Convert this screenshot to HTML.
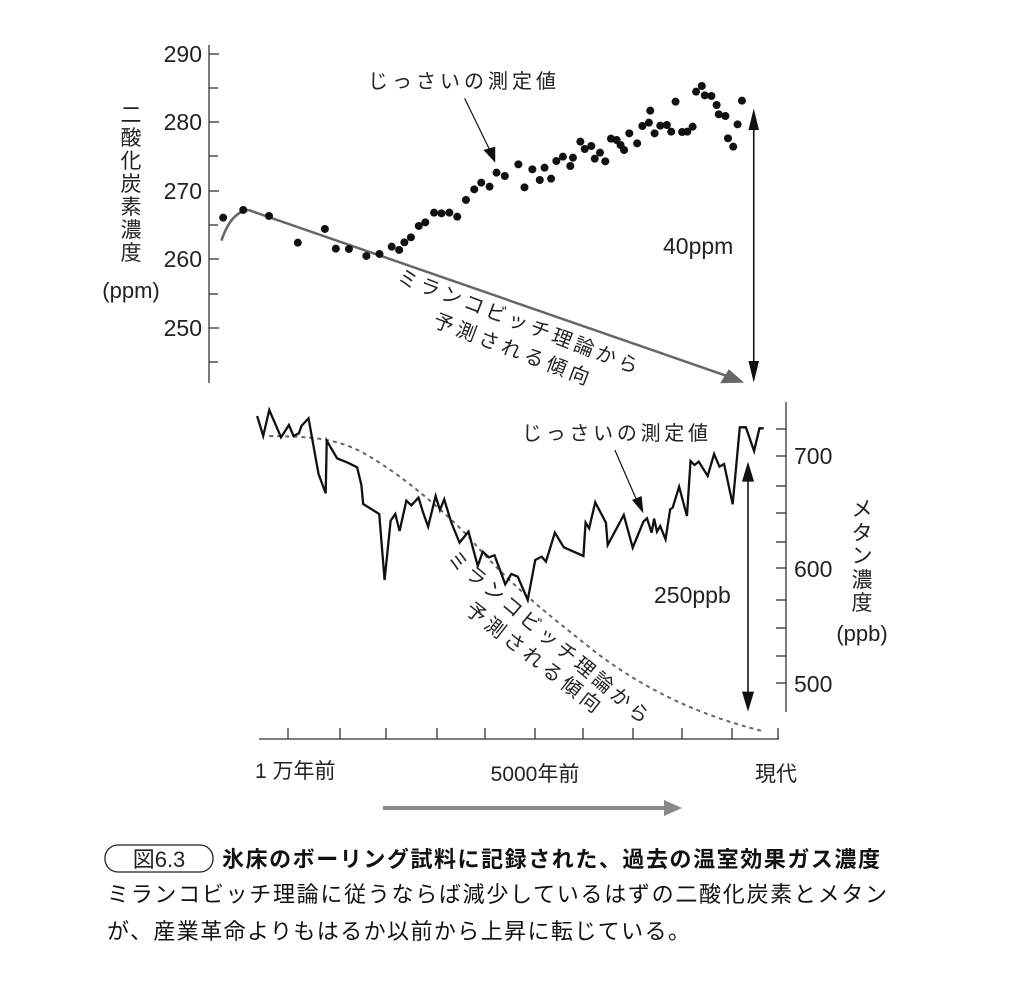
<!DOCTYPE html>
<html><head><meta charset="utf-8"><style>
html,body{margin:0;padding:0;background:#fff;}
svg{display:block;font-family:"Liberation Sans","Noto Sans CJK JP",sans-serif;}
</style></head><body>
<svg width="1014" height="984" viewBox="0 0 1014 984" xmlns="http://www.w3.org/2000/svg">
<!-- TOP CHART -->
<g stroke="#333" stroke-width="1.3">
<line x1="209" y1="45" x2="209" y2="383"/>
<line x1="209" y1="54" x2="219" y2="54"/><line x1="209" y1="88" x2="218" y2="88"/>
<line x1="209" y1="122" x2="219" y2="122"/><line x1="209" y1="156" x2="218" y2="156"/>
<line x1="209" y1="191" x2="219" y2="191"/><line x1="209" y1="225" x2="218" y2="225"/>
<line x1="209" y1="259" x2="219" y2="259"/><line x1="209" y1="294" x2="218" y2="294"/>
<line x1="209" y1="328" x2="219" y2="328"/><line x1="209" y1="362" x2="218" y2="362"/>
</g>
<g font-size="23" fill="#222" text-anchor="end">
<text x="202" y="62">290</text><text x="202" y="130">280</text><text x="202" y="199">270</text>
<text x="202" y="267">260</text><text x="202" y="336">250</text>
</g>
<g font-size="21" fill="#222" text-anchor="middle">
<text x="131" y="122">二</text><text x="131" y="145">酸</text><text x="131" y="168">化</text>
<text x="131" y="191">炭</text><text x="131" y="214">素</text><text x="131" y="237">濃</text>
<text x="131" y="260">度</text><text x="131" y="298" font-size="22">(ppm)</text>
</g>
<g transform="translate(100,30) scale(0.4367,0.3333)">
<path d="M278,632 Q300,545 340,540" fill="none" stroke="#666" stroke-width="2.5" vector-effect="non-scaling-stroke"/>
<line x1="340" y1="540" x2="1440" y2="1040" stroke="#666" stroke-width="2.5" vector-effect="non-scaling-stroke"/>
<path d="M1475,1058 L1420,1060 L1440,1018 z" fill="#666"/>
<line x1="1497" y1="260" x2="1497" y2="1030" stroke="#111" stroke-width="1.6" vector-effect="non-scaling-stroke"/>
<path d="M1497,235 L1485,300 L1509,300 z" fill="#111"/>
<path d="M1497,1058 L1485,993 L1509,993 z" fill="#111"/>
<line x1="835" y1="205" x2="898" y2="375" stroke="#111" stroke-width="1.2" vector-effect="non-scaling-stroke"/>
<path d="M905,398 L878,360 L905,350 z" fill="#111"/>
<g fill="#111">
<ellipse cx="282" cy="563" rx="9.2" ry="12"/><ellipse cx="328" cy="540" rx="9.2" ry="12"/><ellipse cx="387" cy="558" rx="9.2" ry="12"/>
<ellipse cx="453" cy="638" rx="9.2" ry="12"/><ellipse cx="515" cy="597" rx="9.2" ry="12"/><ellipse cx="540" cy="656" rx="9.2" ry="12"/>
<ellipse cx="570" cy="657" rx="9.2" ry="12"/><ellipse cx="610" cy="678" rx="9.2" ry="12"/><ellipse cx="640" cy="672" rx="9.2" ry="12"/>
<ellipse cx="668" cy="650" rx="9.2" ry="12"/><ellipse cx="685" cy="660" rx="9.2" ry="12"/><ellipse cx="697" cy="637" rx="9.2" ry="12"/>
<ellipse cx="712" cy="622" rx="9.2" ry="12"/><ellipse cx="730" cy="588" rx="9.2" ry="12"/><ellipse cx="745" cy="577" rx="9.2" ry="12"/>
<ellipse cx="765" cy="548" rx="9.2" ry="12"/><ellipse cx="782" cy="550" rx="9.2" ry="12"/><ellipse cx="800" cy="548" rx="9.2" ry="12"/>
<ellipse cx="818" cy="560" rx="9.2" ry="12"/><ellipse cx="838" cy="510" rx="9.2" ry="12"/><ellipse cx="857" cy="478" rx="9.2" ry="12"/>
<ellipse cx="873" cy="458" rx="9.2" ry="12"/><ellipse cx="892" cy="470" rx="9.2" ry="12"/><ellipse cx="908" cy="428" rx="9.2" ry="12"/>
<ellipse cx="927" cy="438" rx="9.2" ry="12"/><ellipse cx="958" cy="403" rx="9.2" ry="12"/><ellipse cx="972" cy="472" rx="9.2" ry="12"/>
<ellipse cx="990" cy="418" rx="9.2" ry="12"/><ellipse cx="1007" cy="450" rx="9.2" ry="12"/><ellipse cx="1018" cy="413" rx="9.2" ry="12"/>
<ellipse cx="1033" cy="446" rx="9.2" ry="12"/><ellipse cx="1045" cy="393" rx="9.2" ry="12"/><ellipse cx="1060" cy="380" rx="9.2" ry="12"/>
<ellipse cx="1077" cy="408" rx="9.2" ry="12"/><ellipse cx="1083" cy="383" rx="9.2" ry="12"/><ellipse cx="1100" cy="335" rx="9.2" ry="12"/>
<ellipse cx="1110" cy="357" rx="9.2" ry="12"/><ellipse cx="1125" cy="348" rx="9.2" ry="12"/><ellipse cx="1133" cy="386" rx="9.2" ry="12"/>
<ellipse cx="1145" cy="368" rx="9.2" ry="12"/><ellipse cx="1157" cy="394" rx="9.2" ry="12"/><ellipse cx="1170" cy="326" rx="9.2" ry="12"/>
<ellipse cx="1183" cy="330" rx="9.2" ry="12"/><ellipse cx="1192" cy="345" rx="9.2" ry="12"/><ellipse cx="1200" cy="360" rx="9.2" ry="12"/>
<ellipse cx="1212" cy="310" rx="9.2" ry="12"/><ellipse cx="1230" cy="340" rx="9.2" ry="12"/><ellipse cx="1242" cy="288" rx="9.2" ry="12"/>
<ellipse cx="1257" cy="278" rx="9.2" ry="12"/><ellipse cx="1260" cy="242" rx="9.2" ry="12"/><ellipse cx="1270" cy="310" rx="9.2" ry="12"/>
<ellipse cx="1283" cy="287" rx="9.2" ry="12"/><ellipse cx="1298" cy="285" rx="9.2" ry="12"/><ellipse cx="1308" cy="305" rx="9.2" ry="12"/>
<ellipse cx="1318" cy="215" rx="9.2" ry="12"/><ellipse cx="1333" cy="306" rx="9.2" ry="12"/><ellipse cx="1345" cy="305" rx="9.2" ry="12"/>
<ellipse cx="1357" cy="290" rx="9.2" ry="12"/><ellipse cx="1365" cy="185" rx="9.2" ry="12"/><ellipse cx="1378" cy="168" rx="9.2" ry="12"/>
<ellipse cx="1385" cy="196" rx="9.2" ry="12"/><ellipse cx="1400" cy="198" rx="9.2" ry="12"/><ellipse cx="1412" cy="225" rx="9.2" ry="12"/>
<ellipse cx="1417" cy="253" rx="9.2" ry="12"/><ellipse cx="1432" cy="258" rx="9.2" ry="12"/><ellipse cx="1438" cy="325" rx="9.2" ry="12"/>
<ellipse cx="1450" cy="350" rx="9.2" ry="12"/><ellipse cx="1460" cy="283" rx="9.2" ry="12"/><ellipse cx="1470" cy="212" rx="9.2" ry="12"/>
</g>
</g>
<text x="368" y="88" font-size="20" fill="#222" textLength="188">じっさいの測定値</text>
<text x="663" y="254" font-size="23" fill="#222">40ppm</text>
<text x="396" y="282" font-size="20" fill="#222" transform="rotate(21 396 282)" textLength="256">ミランコビッチ理論から</text>
<text x="432" y="326" font-size="20" fill="#222" transform="rotate(21 432 326)" textLength="165">予測される傾向</text>

<!-- BOTTOM CHART -->
<g stroke="#333" stroke-width="1.3">
<line x1="786" y1="402" x2="786" y2="712"/>
<line x1="776" y1="429" x2="786" y2="429"/><line x1="776" y1="456" x2="786" y2="456"/>
<line x1="776" y1="486" x2="786" y2="486"/><line x1="776" y1="513" x2="786" y2="513"/>
<line x1="776" y1="542" x2="786" y2="542"/><line x1="776" y1="568" x2="786" y2="568"/>
<line x1="776" y1="600" x2="786" y2="600"/><line x1="776" y1="628" x2="786" y2="628"/>
<line x1="776" y1="656" x2="786" y2="656"/><line x1="776" y1="683" x2="786" y2="683"/>
<line x1="259" y1="739" x2="779" y2="739"/>
<line x1="288" y1="728" x2="288" y2="739"/><line x1="340" y1="728" x2="340" y2="739"/>
<line x1="386" y1="728" x2="386" y2="739"/><line x1="437" y1="728" x2="437" y2="739"/>
<line x1="485" y1="728" x2="485" y2="739"/><line x1="535" y1="728" x2="535" y2="739"/>
<line x1="583" y1="728" x2="583" y2="739"/><line x1="633" y1="728" x2="633" y2="739"/>
<line x1="682" y1="728" x2="682" y2="739"/><line x1="732" y1="728" x2="732" y2="739"/>
<line x1="778" y1="728" x2="778" y2="739"/>
</g>
<g font-size="23" fill="#222">
<text x="794" y="464">700</text><text x="794" y="577">600</text><text x="794" y="692">500</text>
</g>
<g font-size="21" fill="#222" text-anchor="middle">
<text x="862" y="516">メ</text><text x="862" y="540">タ</text><text x="862" y="563">ン</text>
<text x="862" y="587">濃</text><text x="862" y="610">度</text><text x="862" y="641" font-size="22">(ppb)</text>
</g>
<g font-size="21" fill="#222">
<text x="255" y="778">1 万年前</text>
<text x="535" y="781" text-anchor="middle">5000年前</text>
<text x="755" y="781">現代</text>
</g>
<g transform="translate(240,400) scale(0.357,0.3333)">
<path d="M82,108 C200,110 260,115 330,150 C420,200 540,300 640,410 C760,560 860,640 1000,760 C1150,880 1300,950 1470,995" fill="none" stroke="#666" stroke-width="2" stroke-dasharray="4 4" vector-effect="non-scaling-stroke"/>
<path d="M48,48 L65,108 L82,30 L115,112 L137,75 L150,108 L165,100 L172,78 L192,55 L220,222 L240,280 L243,122 L272,175 L302,188 L328,202 L340,255 L345,312 L390,342 L405,540 L422,362 L435,342 L447,393 L466,302 L480,316 L500,293 L513,338 L527,380 L548,288 L560,330 L572,298 L592,368 L615,428 L640,395 L666,498 L680,455 L697,472 L713,466 L743,553 L760,522 L778,530 L806,600 L827,480 L845,470 L857,485 L882,398 L907,442 L962,468 L968,368 L978,385 L995,307 L1025,368 L1030,435 L1075,345 L1100,443 L1130,365 L1140,355 L1153,398 L1160,356 L1168,395 L1177,378 L1192,418 L1205,328 L1212,323 L1230,260 L1252,348 L1262,183 L1273,195 L1285,185 L1310,228 L1328,162 L1343,200 L1356,192 L1380,313 L1400,82 L1417,82 L1440,153 L1455,85 L1467,85" fill="none" stroke="#111" stroke-width="2.3" stroke-linejoin="miter" vector-effect="non-scaling-stroke"/>
<line x1="1423" y1="230" x2="1423" y2="890" stroke="#111" stroke-width="1.6" vector-effect="non-scaling-stroke"/>
<path d="M1423,185 L1406,245 L1440,245 z" fill="#111"/>
<path d="M1423,935 L1406,875 L1440,875 z" fill="#111"/>
<line x1="1050" y1="150" x2="1115" y2="310" stroke="#111" stroke-width="1.2" vector-effect="non-scaling-stroke"/>
<path d="M1130,340 L1098,300 L1125,288 z" fill="#111"/>
</g>
<text x="522" y="440" font-size="20" fill="#222" textLength="186">じっさいの測定値</text>
<text x="654" y="603" font-size="23" fill="#222">250ppb</text>
<text x="446" y="560" font-size="20" fill="#222" transform="rotate(40 446 560)" textLength="256">ミランコビッチ理論から</text>
<text x="464" y="612" font-size="20" fill="#222" transform="rotate(38 464 612)" textLength="165">予測される傾向</text>

<!-- CAPTION -->
<line x1="383" y1="808" x2="668" y2="808" stroke="#888" stroke-width="4"/>
<path d="M682,808 L664,800 L664,816 z" fill="#888"/>
<rect x="105" y="845" width="108" height="27" rx="13" ry="13" fill="none" stroke="#222" stroke-width="1.3"/>
<text x="159" y="867" font-size="22" fill="#222" text-anchor="middle">図6.3</text>
<text x="222" y="867" font-size="22" font-weight="bold" fill="#111" textLength="658">氷床のボーリング試料に記録された、過去の温室効果ガス濃度</text>
<text x="107" y="902" font-size="22" fill="#111" textLength="780">ミランコビッチ理論に従うならば減少しているはずの二酸化炭素とメタン</text>
<text x="107" y="939" font-size="22" fill="#111" textLength="583">が、産業革命よりもはるか以前から上昇に転じている。</text>
</svg>
</body></html>
